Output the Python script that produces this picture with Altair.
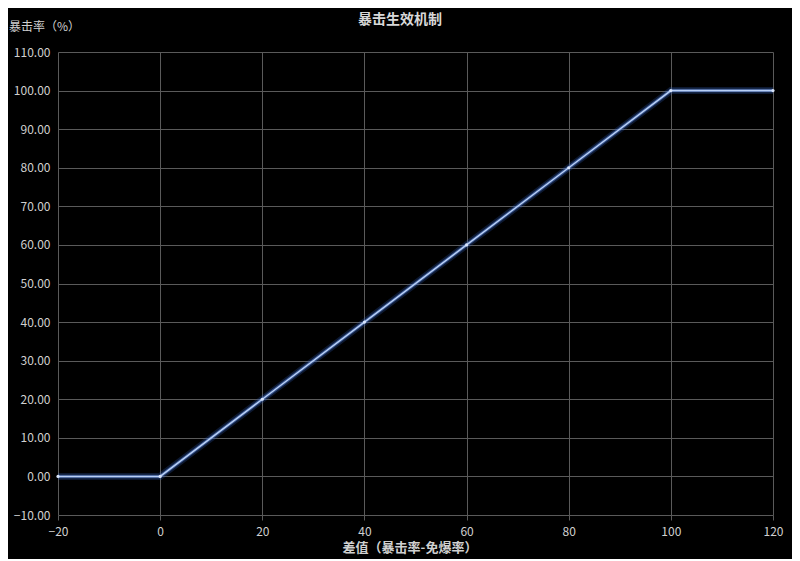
import altair as alt
import pandas as pd

diff = [-20, 0, 20, 40, 60, 80, 100, 120]
crit = [0, 0, 20, 40, 60, 80, 100, 100]

df = pd.DataFrame({"diff": diff, "crit": crit})

FONT = "Noto Sans CJK SC"
LABEL = "#d0d0d0"
GRID = "#5a5a5a"

x = alt.X("diff:Q", scale=alt.Scale(domain=[-20, 120], nice=False),
          axis=alt.Axis(values=[-20, 0, 20, 40, 60, 80, 100, 120], title=None,
                        grid=True, gridColor=GRID, gridWidth=1,
                        domain=False, ticks=True, tickColor=GRID, tickSize=5,
                        labelColor=LABEL, labelFontSize=12, labelFont=FONT,
                        labelPadding=6, labelFlush=False))
y = alt.Y("crit:Q", scale=alt.Scale(domain=[-10, 110], nice=False),
          axis=alt.Axis(values=list(range(-10, 111, 10)), format=".2f", title=None,
                        grid=True, gridColor=GRID, gridWidth=1,
                        domain=False, ticks=False,
                        labelColor=LABEL, labelFontSize=12, labelFont=FONT,
                        labelPadding=8, labelFlush=False))

base = alt.Chart(df)
glow2 = base.mark_line(color="#2f5fc0", strokeWidth=7, opacity=0.25).encode(x=x, y=y)
glow1 = base.mark_line(color="#5a86e0", strokeWidth=3.5, opacity=0.5).encode(x=x, y=y)
core = base.mark_line(color="#b8cff5", strokeWidth=1.5).encode(x=x, y=y)
pts = base.mark_point(filled=True, color="#d8e4fa", size=10, opacity=1).encode(x=x, y=y)

main_title = pd.DataFrame({"t": ["暴击生效机制"]})
mtitle = alt.Chart(main_title).mark_text(
    font=FONT, fontSize=14, fontWeight="bold", color="#d8d8d8", align="center", baseline="middle"
).encode(text="t:N", x=alt.value(342), y=alt.value(-32))

titles = pd.DataFrame({"t": ["暴击率（%）"]})
ytitle = alt.Chart(titles).mark_text(
    font=FONT, fontSize=12, color=LABEL, align="left", baseline="middle"
).encode(text="t:N", x=alt.value(-49), y=alt.value(-25))

xt = pd.DataFrame({"t": ["差值（暴击率-免爆率）"]})
xtitle = alt.Chart(xt).mark_text(
    font=FONT, fontSize=13, fontWeight="bold", color=LABEL, align="center", baseline="top"
).encode(text="t:N", x=alt.value(352), y=alt.value(490))

chart = alt.layer(glow2, glow1, core, pts, mtitle, ytitle, xtitle).properties(
    width=715, height=463,
    autosize=alt.AutoSizeParams(type="none"),
    padding={"left": 50, "top": 44, "right": 19, "bottom": 44},
    background="black",
).configure_view(stroke=None)

chart.save("out.html", embed_options={"renderer": "svg", "actions": False})
